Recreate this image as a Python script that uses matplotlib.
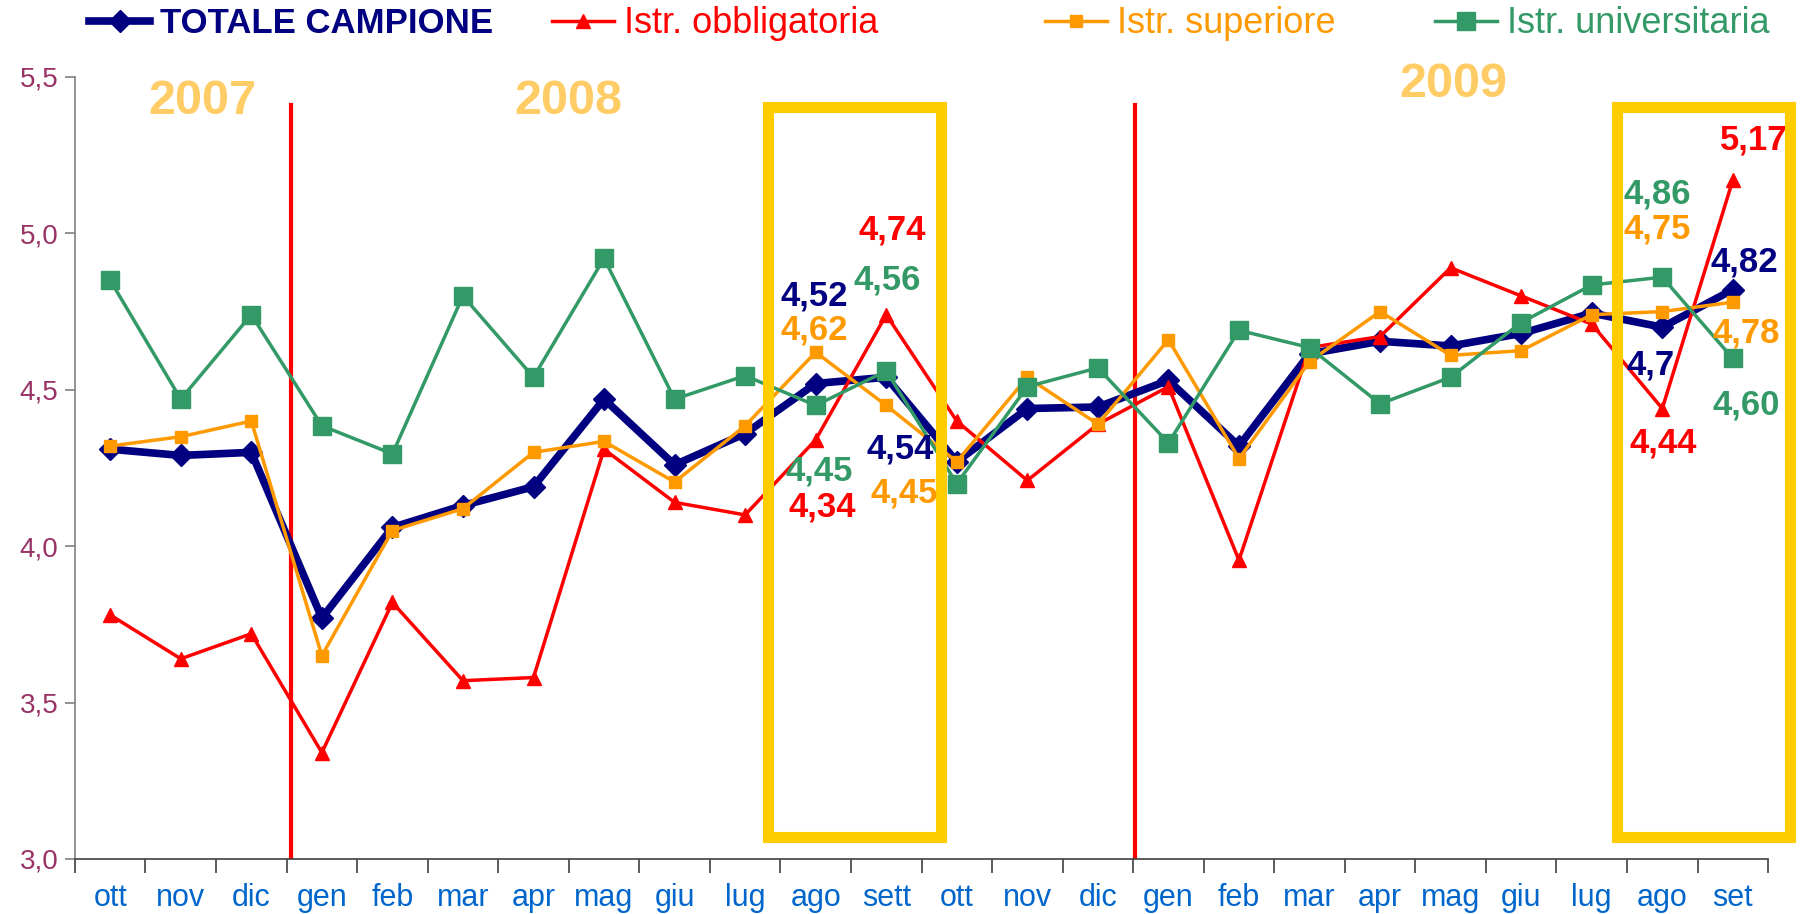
import matplotlib
matplotlib.use("Agg")
import matplotlib.pyplot as plt
from matplotlib.patches import Rectangle

# ---------------- data ----------------
months = ["ott", "nov", "dic", "gen", "feb", "mar", "apr", "mag", "giu", "lug", "ago", "sett",
          "ott", "nov", "dic", "gen", "feb", "mar", "apr", "mag", "giu", "lug", "ago", "set"]
years = ["2007", "2008", "2009"]

totale = [4.31, 4.29, 4.30, 3.77, 4.06, 4.13, 4.19, 4.47, 4.26, 4.36, 4.52, 4.54,
          4.27, 4.44, 4.445, 4.53, 4.32, 4.615, 4.655, 4.64, 4.68, 4.745, 4.70, 4.82]
obblig = [3.78, 3.64, 3.72, 3.34, 3.82, 3.57, 3.58, 4.31, 4.14, 4.10, 4.34, 4.74,
          4.40, 4.21, 4.39, 4.51, 3.955, 4.635, 4.67, 4.89, 4.80, 4.71, 4.44, 5.17]
superiore = [4.32, 4.35, 4.40, 3.65, 4.05, 4.12, 4.30, 4.335, 4.205, 4.385, 4.62, 4.45,
             4.27, 4.54, 4.39, 4.66, 4.28, 4.59, 4.75, 4.61, 4.625, 4.74, 4.75, 4.78]
univers = [4.85, 4.47, 4.74, 4.385, 4.295, 4.80, 4.54, 4.92, 4.47, 4.545, 4.45, 4.56,
           4.20, 4.51, 4.57, 4.33, 4.69, 4.635, 4.455, 4.54, 4.715, 4.835, 4.86, 4.60]

series_names = ["TOTALE CAMPIONE", "Istr. obbligatoria", "Istr. superiore", "Istr. universitaria"]
yticks = [3.0, 3.5, 4.0, 4.5, 5.0, 5.5]

# ---------------- style ----------------
NAVY = "#000080"
RED = "#FF0000"
ORANGE = "#FF9900"
GREEN = "#339966"
YELLOW = "#FFCC00"
YEARC = "#FFCC66"
XLAB = "#0066CC"
YLAB = "#993366"
SANS = ["Liberation Sans", "DejaVu Sans"]

fig = plt.figure(figsize=(18.06, 9.14), dpi=100)
ax = fig.add_axes([0.0415, 0.0602, 0.9375, 0.8556])

x = list(range(len(months)))

l1, = ax.plot(x, totale, color=NAVY, lw=5.5, marker="D", ms=11, zorder=3)
l2, = ax.plot(x, obblig, color=RED, lw=2.5, marker="^", ms=10, zorder=4)
l3, = ax.plot(x, superiore, color=ORANGE, lw=2.5, marker="s", ms=8, zorder=5)
l4, = ax.plot(x, univers, color=GREEN, lw=2.5, marker="s", ms=13, zorder=6)

ax.set_xlim(-0.5, len(months) - 0.5)
ax.set_ylim(3.0, 5.5)

# year separators
ysep = (5.41 - 3.0) / 2.5
for xs in (2.56, 14.52):
    ax.axvline(xs, ymin=0, ymax=ysep, color=RED, lw=3, zorder=2)

# highlight boxes
for x0, x1 in ((9.33, 11.78), (21.36, 23.81)):
    ax.add_patch(Rectangle((x0, 3.07), x1 - x0, 5.405 - 3.07, fill=False,
                           edgecolor=YELLOW, lw=8, clip_on=False, zorder=7))

# year labels
for (xp, yp), t in zip(((1.31, 5.42), (6.5, 5.42), (19.04, 5.475)), years):
    ax.text(xp, yp, t, color=YEARC, fontsize=35, fontweight="bold", family=SANS,
            ha="center", va="center", zorder=8)

# data labels
labels = [
    (9.98, 4.80, "4,52", NAVY), (9.98, 4.69, "4,62", ORANGE),
    (11.08, 5.01, "4,74", RED), (11.01, 4.85, "4,56", GREEN),
    (10.05, 4.24, "4,45", GREEN), (10.1, 4.125, "4,34", RED),
    (11.2, 4.31, "4,54", NAVY), (11.25, 4.17, "4,45", ORANGE),
    (23.29, 5.30, "5,17", RED), (21.93, 5.125, "4,86", GREEN),
    (21.93, 5.015, "4,75", ORANGE), (23.17, 4.91, "4,82", NAVY),
    (21.83, 4.58, "4,7", NAVY), (23.19, 4.68, "4,78", ORANGE),
    (23.19, 4.45, "4,60", GREEN), (22.01, 4.33, "4,44", RED),
]
for xp, yp, t, c in labels:
    ax.text(xp, yp, t, color=c, fontsize=25, fontweight="bold", family=SANS,
            ha="center", va="center", zorder=9)

# axes styling
for s in ("top", "right"):
    ax.spines[s].set_visible(False)
ax.spines["left"].set_color("#808080")
ax.spines["bottom"].set_color("#404040")
ax.spines["left"].set_linewidth(1.2)
ax.spines["bottom"].set_linewidth(1.2)

ax.set_yticks(yticks)
ax.set_yticklabels([f"{v:.1f}".replace(".", ",") for v in yticks])
ax.tick_params(axis="y", direction="out", length=7, width=1.2, color="#808080",
               labelcolor=YLAB, labelsize=20, pad=5)
for lab in ax.get_yticklabels():
    lab.set_family(SANS)

ax.set_xticks([i - 0.5 for i in range(len(months) + 1)])
ax.set_xticklabels([])
ax.set_xticks(x, minor=True)
ax.set_xticklabels(months, minor=True)
ax.tick_params(axis="x", which="major", direction="out", length=10, width=1.2, color="#404040")
ax.tick_params(axis="x", which="minor", length=0, labelcolor=XLAB, labelsize=22, pad=17)
for lab in ax.get_xticklabels(minor=True):
    lab.set_family(SANS)

# legend: one entry per legend, placed like the reference
leg_specs = [
    (l1, series_names[0], NAVY, 0.0495, 25, "bold", 1.75),
    (l2, series_names[1], RED, 0.3055, 26, "normal", 1.72),
    (l3, series_names[2], ORANGE, 0.5785, 26, "normal", 1.72),
    (l4, series_names[3], GREEN, 0.7945, 26, "normal", 1.72),
]
for h, name, c, xl, fs, fw, hl in leg_specs:
    lg = fig.legend([h], [name], loc="center left", bbox_to_anchor=(xl, 0.974),
                    frameon=False, borderpad=0, borderaxespad=0,
                    handlelength=hl, handletextpad=0.27,
                    prop={"family": SANS, "size": fs, "weight": fw})
    lg.get_texts()[0].set_color(c)

fig.savefig("out.png", dpi=100)
